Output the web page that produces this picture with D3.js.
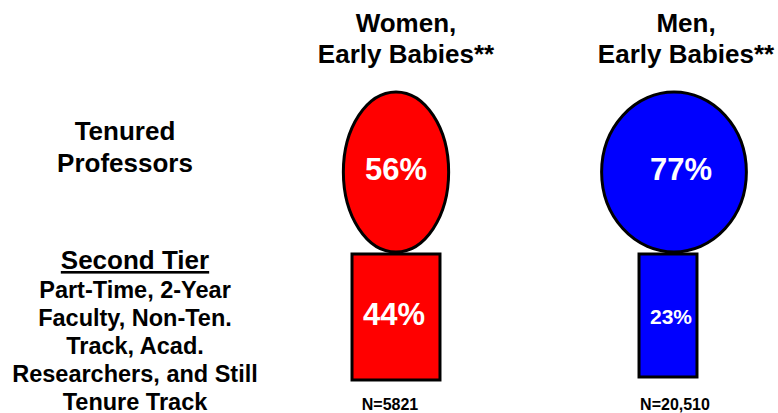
<!DOCTYPE html>
<html>
<head>
<meta charset="utf-8">
<script src="https://cdn.jsdelivr.net/npm/d3@7"></script>
<style>
  body { margin: 0; background: #fff; }
  text { font-family: "Liberation Sans", Arial, sans-serif; font-weight: bold; }
</style>
</head>
<body>
<svg class="chart"></svg>
<script>
// data
const groups = ["Women", "Men"];
const headers = [["Women,", "Early Babies**"], ["Men,", "Early Babies**"]];
const tenured = [56, 77];
const secondTier = [44, 23];
const nLabels = ["N=5821", "N=20,510"];
const tierTitle = "Second Tier";
const tenuredLabel = ["Tenured", "Professors"];
const tierLines = ["Part-Time, 2-Year", "Faculty, Non-Ten.", "Track, Acad.", "Researchers, and Still", "Tenure Track"];
const colors = ["#ff0000", "#0000ff"];

const width = 778, height = 413;

const svg = d3.select(".chart")
    .attr("width", width)
    .attr("height", height);

// column positions
const xEll = d3.scalePoint().domain(groups).range([396, 674]);
const xRect = d3.scalePoint().domain(groups).range([396, 668]);
const xHead = d3.scalePoint().domain(groups).range([406, 686]);
const xN = d3.scalePoint().domain(groups).range([390, 675]);
const color = d3.scaleOrdinal().domain(groups).range(colors);

// ellipse half-width scales with the share, rect width too
const rx = d3.scaleLinear().domain([0, 100]).range([0, 94]);
const rw = d3.scaleLinear().domain([0, 100]).range([25.1, 168]);
const rh = d3.scaleLinear().domain([0, 100]).range([119.7, 134]);

const data = groups.map((g, i) => ({
  g, head: headers[i], top: tenured[i], bottom: secondTier[i], n: nLabels[i]
}));

// column headers
const head = svg.selectAll(".head")
    .data(data)
  .enter().append("text")
    .attr("class", "head")
    .attr("text-anchor", "middle")
    .style("font-size", "26px");
head.selectAll("tspan")
    .data(d => d.head.map(t => ({t, x: xHead(d.g)})))
  .enter().append("tspan")
    .attr("x", d => d.x)
    .attr("y", (d, i) => 32 + i * 31)
    .text(d => d.t);

// tenured ellipses
svg.selectAll(".ell")
    .data(data)
  .enter().append("ellipse")
    .attr("class", "ell")
    .attr("cx", d => xEll(d.g))
    .attr("cy", 172)
    .attr("rx", d => rx(d.top))
    .attr("ry", 80)
    .attr("fill", d => color(d.g))
    .attr("stroke", "#000")
    .attr("stroke-width", 3);

svg.selectAll(".ellLabel")
    .data(data)
  .enter().append("text")
    .attr("class", "ellLabel")
    .attr("x", d => xEll(d.g) + (d.g === "Men" ? 7 : 0))
    .attr("y", 180)
    .attr("text-anchor", "middle")
    .attr("fill", "#fff")
    .style("font-size", "31px")
    .text(d => d.top + "%");

// second tier rects
svg.selectAll(".bar")
    .data(data)
  .enter().append("rect")
    .attr("class", "bar")
    .attr("x", d => xRect(d.g) - rw(d.bottom) / 2)
    .attr("y", 254)
    .attr("width", d => rw(d.bottom))
    .attr("height", d => rh(d.bottom))
    .attr("fill", d => color(d.g))
    .attr("stroke", "#000")
    .attr("stroke-width", 3);

svg.selectAll(".barLabel")
    .data(data)
  .enter().append("text")
    .attr("class", "barLabel")
    .attr("x", d => xRect(d.g) + (d.bottom < 30 ? 3 : -2))
    .attr("y", d => d.bottom < 30 ? 324 : 325)
    .attr("text-anchor", "middle")
    .attr("fill", "#fff")
    .style("font-size", d => d.bottom < 30 ? "21px" : "31px")
    .text(d => d.bottom + "%");

// sample sizes
svg.selectAll(".nLabel")
    .data(data)
  .enter().append("text")
    .attr("class", "nLabel")
    .attr("x", d => xN(d.g))
    .attr("y", 410)
    .attr("text-anchor", "middle")
    .style("font-size", "16px")
    .text(d => d.n);

// row labels on the left
svg.selectAll(".tenLabel")
    .data(tenuredLabel)
  .enter().append("text")
    .attr("class", "tenLabel")
    .attr("x", 125)
    .attr("y", (d, i) => 140 + i * 32)
    .attr("text-anchor", "middle")
    .style("font-size", "26px")
    .text(d => d);

svg.append("text")
    .attr("x", 135)
    .attr("y", 269)
    .attr("text-anchor", "middle")
    .attr("text-decoration", "underline")
    .style("font-size", "26px")
    .text(tierTitle);

svg.selectAll(".tierLine")
    .data(tierLines)
  .enter().append("text")
    .attr("class", "tierLine")
    .attr("x", 135)
    .attr("y", (d, i) => 298 + i * 28)
    .attr("text-anchor", "middle")
    .style("font-size", "23.5px")
    .text(d => d);
</script>
</body>
</html>
